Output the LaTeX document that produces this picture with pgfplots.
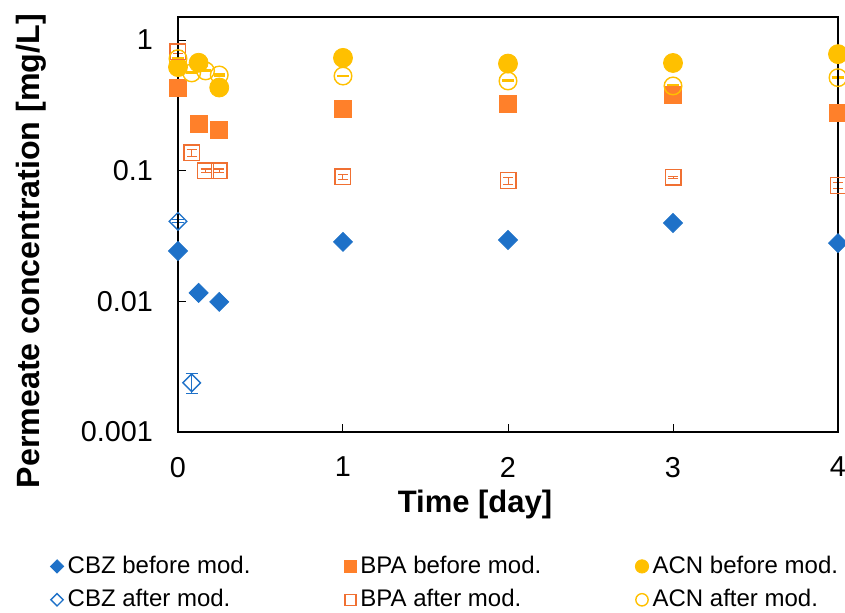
\documentclass[border=0pt]{standalone}
\usepackage{fontspec}
\setmainfont{Liberation Sans}
\setsansfont{Liberation Sans}
\usepackage{pgfplots}
\pgfplotsset{compat=1.18}
\definecolor{cbz}{RGB}{30,113,200}
\definecolor{bpa}{RGB}{255,128,42}
\definecolor{bpao}{RGB}{240,112,50}
\definecolor{acn}{RGB}{255,192,0}
\begin{document}
\begin{tikzpicture}
\useasboundingbox (-89pt,-90pt) rectangle (333.5pt,216pt);
\clip (-89pt,-90pt) rectangle (333.5pt,216pt);
\begin{axis}[
  at={(0,0)}, anchor=south west,
  scale only axis, width=330pt, height=207.5pt,
  ymode=log, xmin=0, xmax=4, ymin=0.001, ymax=1.5,
  xtick={0,1,2,3,4}, ytick={0.001,0.01,0.1,1}, yticklabels={0.001,0.01,0.1,1},
  yminorticks=false,
  /pgf/number format/assume math mode=true,
  tick pos=left, tick align=inside, major tick length=4pt,
  tick style={black, line width=0.5pt},
  axis line style={black, line width=1pt},
  axis on top, clip=false,
  ticklabel style={font=\fontsize{14.4}{16}\selectfont},
  yticklabel style={xshift=-9pt},
  xticklabel style={yshift=-9pt},
  xlabel={Time [day]}, ylabel={Permeate concentration [mg/L]},
  label style={font=\fontsize{15.5}{18}\selectfont\bfseries},
  xlabel style={at={(axis description cs:0.45,-0.1735)}, anchor=center},
  ylabel style={at={(axis description cs:-0.222,0.436)}, anchor=center, rotate=0, font=\fontsize{16.1}{18}\selectfont\bfseries},
  legend columns=3,
  legend cell align=left,
  legend style={at={(-0.203,-0.279)}, anchor=north west, draw=none, fill=none,
    font=\fontsize{12}{14}\selectfont, row sep=2.5pt,
    /tikz/every even column/.append style={column sep=45pt}},
  legend image code/.code={\draw[#1, /tikz/every mark/.append style={scale=0.7}] plot coordinates {(0pt,0pt)};},
]
% CBZ before
\addplot[only marks, mark=square*, mark size=3.36pt, color=cbz, mark options={rotate=45, fill=cbz}]
  coordinates {(0,0.0243) (0.125,0.0116) (0.25,0.0099) (1,0.0285) (2,0.0295) (3,0.0398) (4,0.0279)};
\addlegendentry{CBZ before mod.}
% BPA before
\addplot[only marks, mark=square*, mark size=4.25pt, color=bpa, mark options={fill=bpa}]
  coordinates {(0,0.43) (0.125,0.23) (0.25,0.205) (1,0.296) (2,0.322) (3,0.378) (4,0.277)};
\addlegendentry{BPA before mod.}
% ACN before
\addplot[only marks, mark=*, mark size=4.75pt, color=acn, mark options={fill=acn}]
  coordinates {(0,0.62) (0.125,0.67) (0.25,0.433) (1,0.73) (2,0.66) (3,0.667) (4,0.78)};
\addlegendentry{ACN before mod.}
% CBZ after
\addplot[only marks, mark=square, mark size=3.1pt, color=cbz, line width=0.7pt, mark options={rotate=45},
  error bars/.cd, y dir=both, y explicit,
  error bar style={line width=0.5pt, cbz},
  error mark options={rotate=90, mark size=3pt, line width=0.5pt, cbz}]
  coordinates {(0,0.041) +- (0,0.0012) (0.083,0.00238) +- (0,0.00042)};
\addlegendentry{CBZ after mod.}
% BPA after
\addplot[only marks, mark=square, mark size=3.9pt, color=bpao, line width=0.7pt,
  error bars/.cd, y dir=both, y explicit,
  error bar style={line width=0.5pt, bpao},
  error mark options={rotate=90, mark size=2.5pt, line width=0.5pt, bpao}]
  coordinates {(0,0.815) +- (0,0.02) (0.083,0.137) +- (0,0.009) (0.167,0.1) +- (0,0.003) (0.25,0.1) +- (0,0.003)
   (1,0.0895) +- (0,0.004) (2,0.084) +- (0,0.005) (3,0.089) +- (0,0.002) (4,0.077) +- (0,0.004)};
\addlegendentry{BPA after mod.}
% ACN after
\addplot[only marks, mark=o, mark size=4.4pt, color=acn, line width=0.7pt,
  error bars/.cd, y dir=both, y explicit,
  error bar style={line width=0.5pt, acn},
  error mark options={rotate=90, mark size=2.8pt, line width=1pt, acn}]
  coordinates {(0,0.72) +- (0,0.005) (0.083,0.56) +- (0,0.005) (0.167,0.58) +- (0,0.005) (0.25,0.54) +- (0,0.005)
   (1,0.53) +- (0,0.004) (2,0.486) +- (0,0.004) (3,0.445) +- (0,0.004) (4,0.515) +- (0,0.004)};
\addlegendentry{ACN after mod.}
\end{axis}
\end{tikzpicture}
\end{document}
